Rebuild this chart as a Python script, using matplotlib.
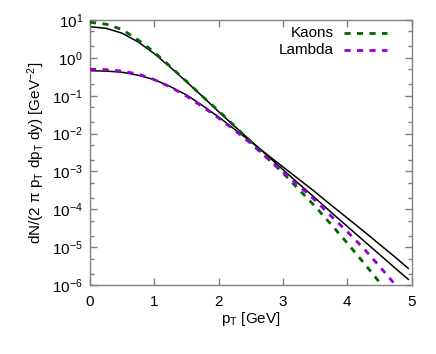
import matplotlib
matplotlib.use("Agg")
import matplotlib.pyplot as plt
from matplotlib.ticker import LogLocator, FixedLocator, NullLocator, LogFormatterMathtext
from matplotlib.lines import Line2D

plt.rcParams['font.family'] = ['Liberation Sans', 'DejaVu Sans']
plt.rcParams['mathtext.fontset'] = 'custom'
plt.rcParams['mathtext.rm'] = 'Liberation Sans'
plt.rcParams['mathtext.it'] = 'Liberation Sans:italic'
plt.rcParams['mathtext.bf'] = 'Liberation Sans:bold'

# ---- data ----
pt_fit = [0.0, 0.25, 0.5, 0.75, 1.0, 1.25, 1.5, 1.75, 2.0, 2.25, 2.5, 2.75,
          3.0, 3.25, 3.5, 3.75, 4.0, 4.25, 4.5, 4.75, 4.95]
kaon_fit = [6.65, 6.03, 4.47, 2.63, 1.29, 0.562, 0.234, 0.0955, 0.0380, 0.0155,
            6.46e-3, 2.69e-3, 1.12e-3, 4.68e-4, 2.00e-4, 8.32e-5, 3.55e-5,
            1.51e-5, 6.46e-6, 2.75e-6, 1.41e-6]
lambda_fit = [0.457, 0.447, 0.417, 0.347, 0.266, 0.174, 0.105, 0.0550, 0.0275,
              0.0129, 6.17e-3, 2.82e-3, 1.32e-3, 6.17e-4, 2.88e-4, 1.29e-4,
              5.89e-5, 2.69e-5, 1.20e-5, 5.37e-6, 2.75e-6]

pt_kaons = [0.0, 0.25, 0.5, 0.75, 1.0, 1.25, 1.5, 1.75, 2.0, 2.25, 2.5, 2.75,
            3.0, 3.25, 3.5, 3.75, 4.0, 4.25, 4.5, 4.75]
kaons = [8.71, 7.76, 5.62, 2.95, 1.41, 0.589, 0.240, 0.0955, 0.0398, 0.0158,
         6.03e-3, 2.34e-3, 9.12e-4, 3.31e-4, 1.20e-4, 3.98e-5, 1.29e-5,
         3.98e-6, 1.20e-6, 3.72e-7]

pt_lambda = [0.0, 0.25, 0.5, 0.75, 1.0, 1.25, 1.5, 1.75, 2.0, 2.25, 2.5, 2.75,
             3.0, 3.25, 3.5, 3.75, 4.0, 4.25, 4.5, 4.75, 5.0]
lambdas = [0.501, 0.490, 0.447, 0.372, 0.266, 0.170, 0.0977, 0.0513, 0.0257,
           0.0123, 5.50e-3, 2.29e-3, 9.77e-4, 4.17e-4, 1.74e-4, 6.61e-5,
           2.57e-5, 9.55e-6, 3.16e-6, 1.00e-6, 3.16e-7]

x_ticks = [0, 1, 2, 3, 4, 5]
legend_labels = ["Kaons", "Lambda"]

green = "#006400"
violet = "#9400d3"
frame = "#808080"

fig = plt.figure(figsize=(4.36, 3.54), dpi=100)
ax = fig.add_axes([90/436, 1-285/354, (411.5-90)/436, (285-20)/354])

ax.plot(pt_fit, kaon_fit, color="black", lw=1.1, zorder=2)
ax.plot(pt_fit, lambda_fit, color="black", lw=1.1, zorder=2)
ax.plot(pt_kaons, kaons, color=green, lw=2.0, dashes=(2.2, 2.3), zorder=3)
ax.plot(pt_lambda, lambdas, color=violet, lw=2.0, dashes=(2.2, 2.3), zorder=3)

ax.set_yscale("log")
ax.set_xlim(0, 5)
ax.set_ylim(1e-6, 1e1)
ax.xaxis.set_major_locator(FixedLocator(x_ticks))
ax.xaxis.set_minor_locator(NullLocator())
ax.yaxis.set_major_locator(LogLocator(base=10, numticks=20))
ax.yaxis.set_minor_locator(LogLocator(base=10, subs=(2.0, 5.0), numticks=20))
ax.yaxis.set_major_formatter(LogFormatterMathtext())

for s in ax.spines.values():
    s.set_color(frame)
    s.set_linewidth(1.0)

ax.tick_params(which="both", direction="in", top=True, right=True, color=frame,
               labelsize=11, labelcolor="black")
ax.tick_params(which="major", length=5, width=1.0)
ax.tick_params(which="minor", length=3, width=1.0)
ax.tick_params(axis="x", pad=7)
ax.tick_params(axis="y", pad=5)

ax.set_xlabel(r"p$_\mathrm{T}$ [GeV]", fontsize=11, labelpad=1)
ax.set_ylabel(r"dN/(2 π p$_\mathrm{T}$ dp$_\mathrm{T}$ dy) [GeV$^{-2}$]", fontsize=11, labelpad=4)

# gnuplot-style key (text right-aligned, sample on the right)
key_y = [1-(33-20)/265, 1-(50-20)/265]
for lab, col, yy in zip(legend_labels, [green, violet], key_y):
    ax.text((334-90)/321.5, yy, lab, transform=ax.transAxes, ha="right", va="center",
            fontsize=11)
    ax.add_line(Line2D([(344-90)/321.5, (387-90)/321.5], [yy, yy], transform=ax.transAxes,
                       color=col, lw=2.0, dashes=(2.2, 2.3)))

fig.savefig("out.png", dpi=100)
